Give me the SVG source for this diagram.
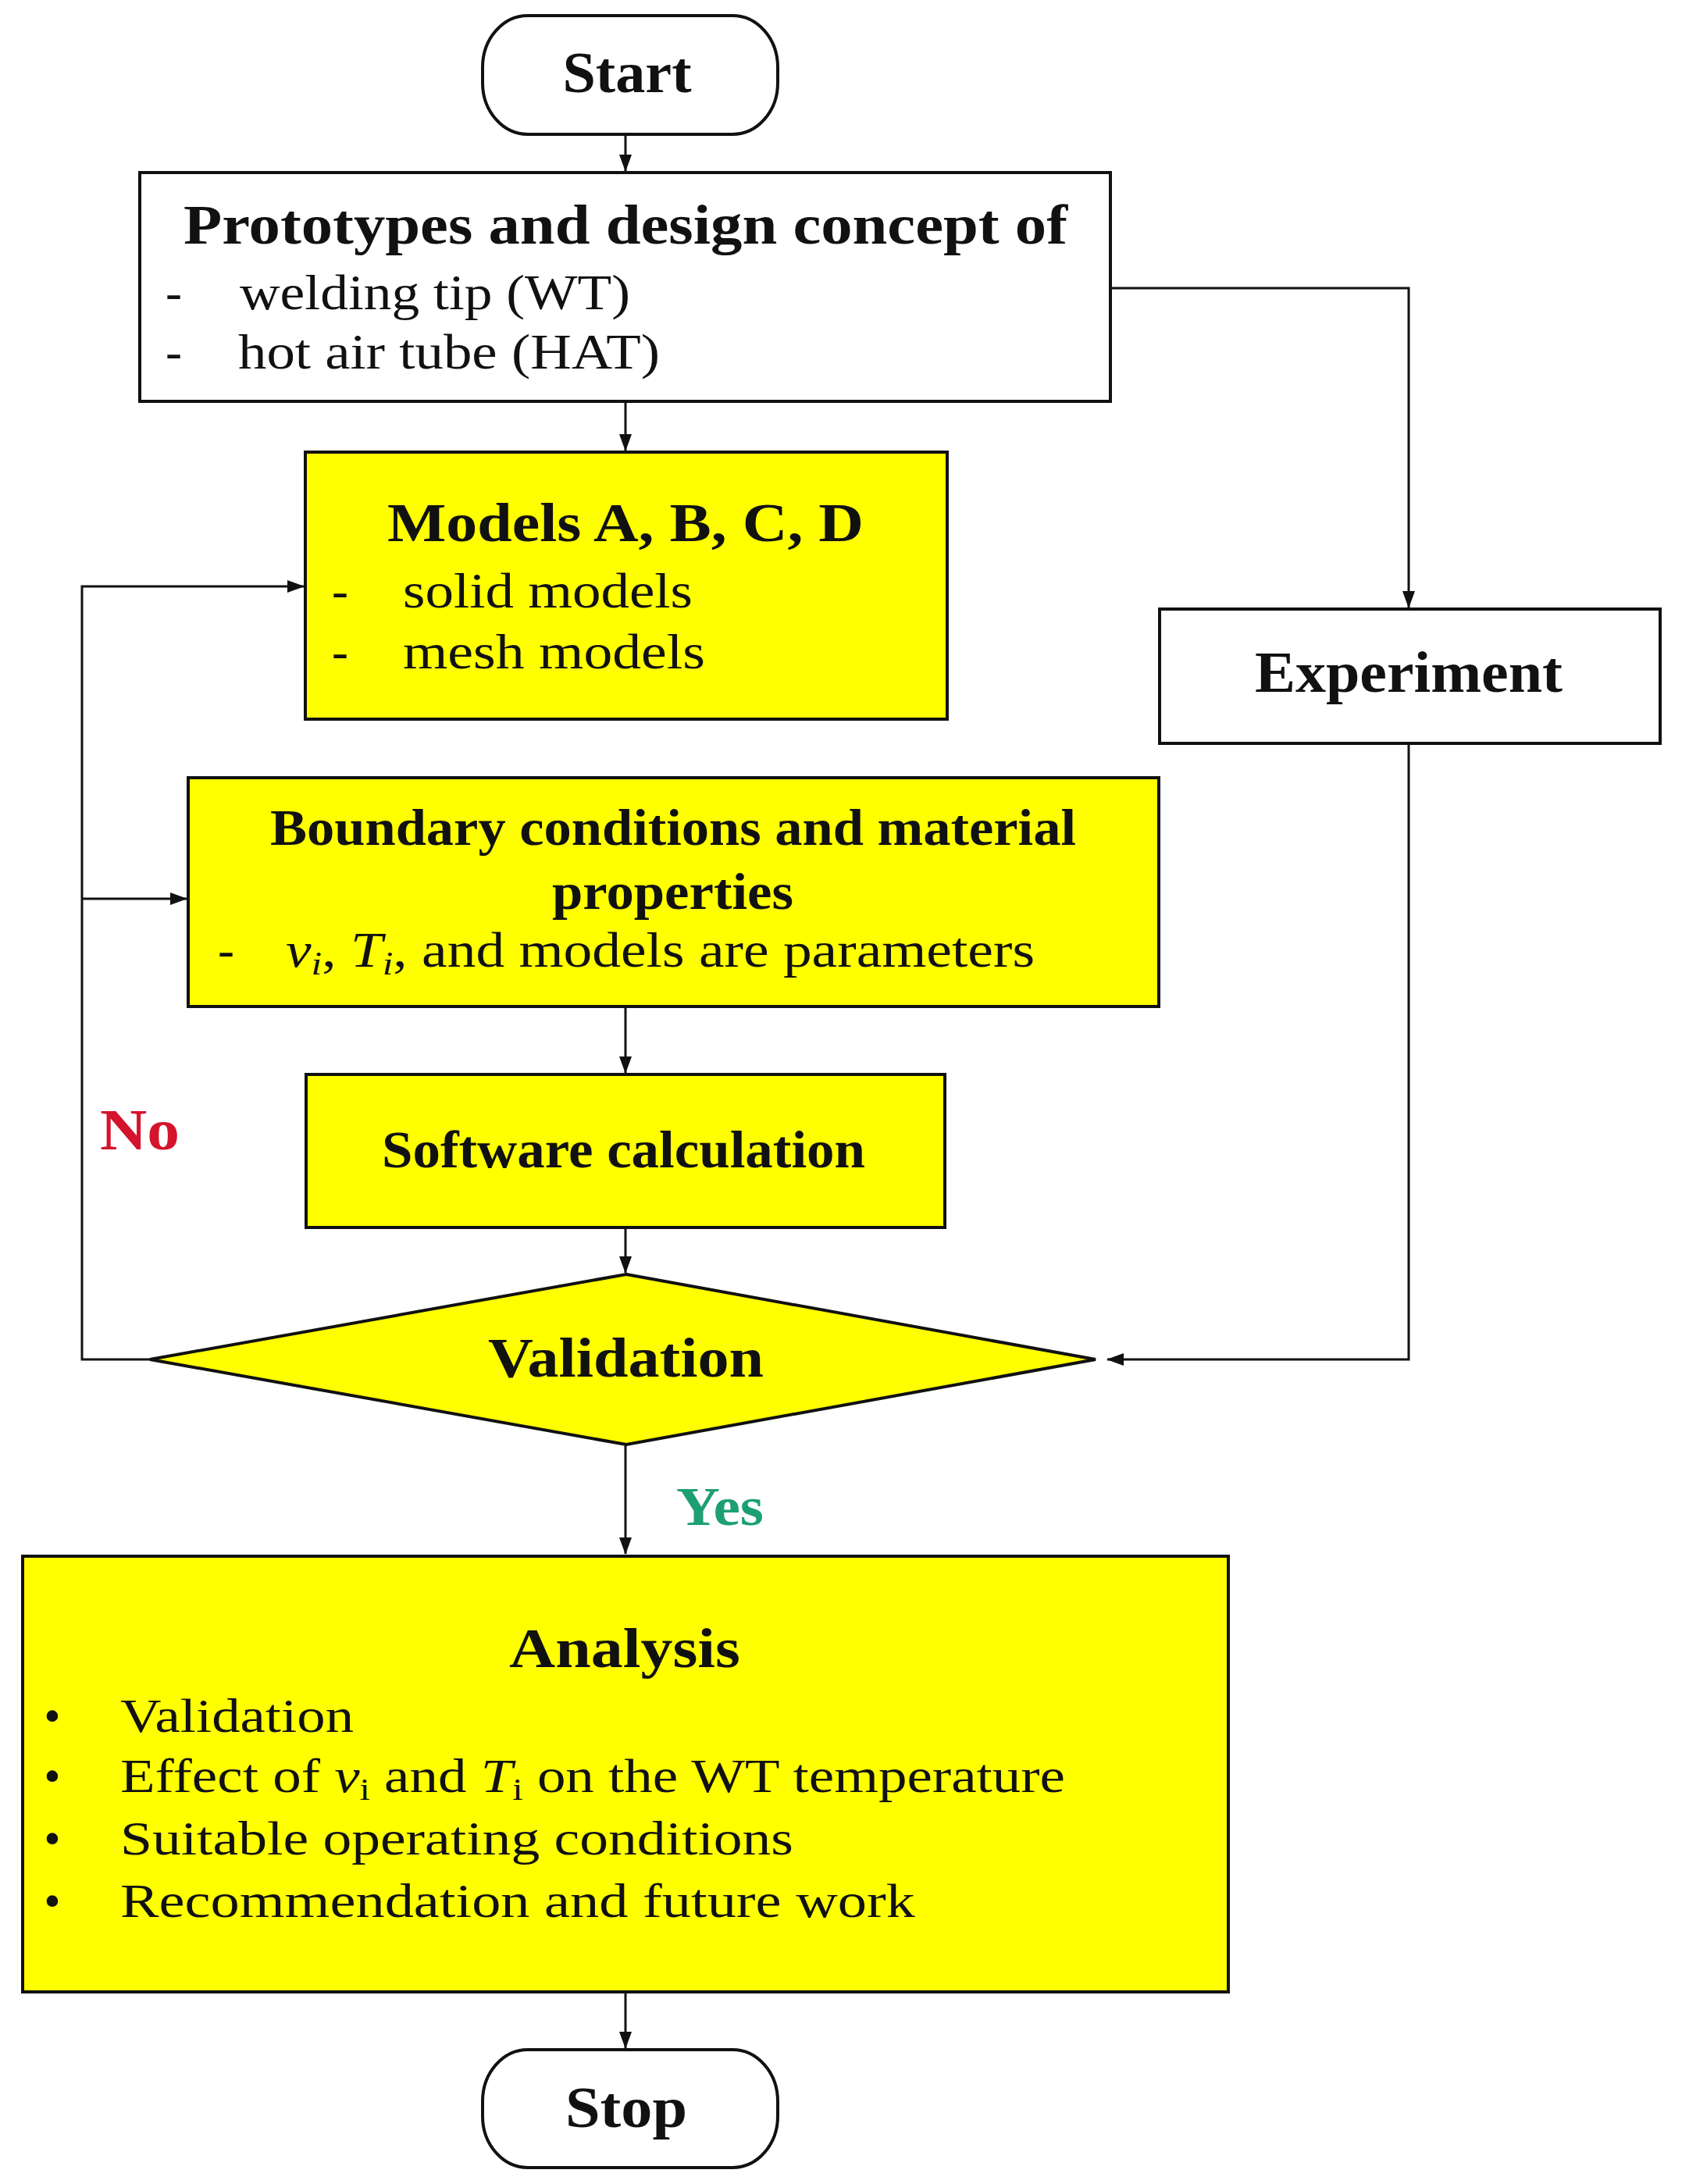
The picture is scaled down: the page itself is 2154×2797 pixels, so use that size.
<svg xmlns="http://www.w3.org/2000/svg" width="2154" height="2797" viewBox="0 0 2154 2797">
<defs>
<style>
.box{fill:#ffffff;stroke:#111;stroke-width:4}
.ybox{fill:#ffff00;stroke:#111;stroke-width:4}
.conn{fill:none;stroke:#111;stroke-width:3}
.t{font-family:"Liberation Serif","Times New Roman",serif;fill:#111}
.b{font-weight:bold}
.it{font-style:italic}
</style>
<marker id="ah" markerUnits="userSpaceOnUse" markerWidth="22" markerHeight="16" refX="21" refY="8" orient="auto">
<path d="M0,0 L22,8 L0,16 z" fill="#111"/>
</marker>
</defs>
<rect width="2154" height="2797" fill="#ffffff"/>

<g id="connectors">
<line class="conn" x1="801" y1="172" x2="801" y2="219" marker-end="url(#ah)"/>
<line class="conn" x1="801" y1="514" x2="801" y2="577" marker-end="url(#ah)"/>
<polyline class="conn" points="1422,369 1804,369 1804,778" marker-end="url(#ah)"/>
<polyline class="conn" points="1804,952 1804,1741 1418,1741" marker-end="url(#ah)"/>
<line class="conn" x1="801" y1="1289" x2="801" y2="1374" marker-end="url(#ah)"/>
<line class="conn" x1="801" y1="1572" x2="801" y2="1630" marker-end="url(#ah)"/>
<line class="conn" x1="801" y1="1850" x2="801" y2="1990" marker-end="url(#ah)"/>
<line class="conn" x1="801" y1="2551" x2="801" y2="2623" marker-end="url(#ah)"/>
<polyline class="conn" points="192,1741 105,1741 105,751 389,751" marker-end="url(#ah)"/>
<line class="conn" x1="105" y1="1151" x2="239" y2="1151" marker-end="url(#ah)"/>
</g>

<g id="start">
<rect class="box" x="618" y="20" width="378" height="152" rx="58" ry="66"/>
<text class="t b" x="803" y="118" font-size="75" text-anchor="middle" textLength="165" lengthAdjust="spacingAndGlyphs">Start</text>
</g>

<g id="prototypes">
<rect class="box" x="179" y="221" width="1243" height="293"/>
<text class="t b" x="235" y="312" font-size="72" textLength="1132" lengthAdjust="spacingAndGlyphs">Prototypes and design concept of</text>
<text class="t" x="212" y="396" font-size="63">-</text>
<text class="t" x="307" y="396" font-size="63" textLength="500" lengthAdjust="spacingAndGlyphs">welding tip (WT)</text>
<text class="t" x="212" y="472" font-size="63">-</text>
<text class="t" x="305" y="472" font-size="63" textLength="540" lengthAdjust="spacingAndGlyphs">hot air tube (HAT)</text>
</g>

<g id="models">
<rect class="ybox" x="391" y="579" width="822" height="342"/>
<text class="t b" x="496" y="693" font-size="70" textLength="610" lengthAdjust="spacingAndGlyphs">Models A, B, C, D</text>
<text class="t" x="425" y="778" font-size="63">-</text>
<text class="t" x="516" y="778" font-size="63" textLength="371" lengthAdjust="spacingAndGlyphs">solid models</text>
<text class="t" x="425" y="856" font-size="63">-</text>
<text class="t" x="516" y="856" font-size="63" textLength="387" lengthAdjust="spacingAndGlyphs">mesh models</text>
</g>

<g id="experiment">
<rect class="box" x="1485" y="780" width="641" height="172"/>
<text class="t b" x="1607" y="886" font-size="74" textLength="394" lengthAdjust="spacingAndGlyphs">Experiment</text>
</g>

<g id="boundary">
<rect class="ybox" x="241" y="996" width="1243" height="293"/>
<text class="t b" x="346" y="1082" font-size="66" textLength="1032" lengthAdjust="spacingAndGlyphs">Boundary conditions and material</text>
<text class="t b" x="707" y="1164" font-size="66" textLength="309" lengthAdjust="spacingAndGlyphs">properties</text>
<text class="t" x="279" y="1238" font-size="63">-</text>
<text class="t" x="366" y="1238" font-size="63" textLength="959" lengthAdjust="spacingAndGlyphs"><tspan class="it">v</tspan><tspan class="it" font-size="42" dy="10">i</tspan><tspan dy="-10">, </tspan><tspan class="it">T</tspan><tspan class="it" font-size="42" dy="10">i</tspan><tspan dy="-10">, and models are parameters</tspan></text>
</g>

<g id="software">
<rect class="ybox" x="392" y="1376" width="818" height="196"/>
<text class="t b" x="489" y="1495" font-size="68" textLength="619" lengthAdjust="spacingAndGlyphs">Software calculation</text>
</g>

<g id="validation">
<polygon class="ybox" points="802,1632 1403,1741 802,1850 192,1741"/>
<text class="t b" x="625" y="1763" font-size="72" textLength="353" lengthAdjust="spacingAndGlyphs">Validation</text>
</g>

<g id="labels">
<text class="t b" x="128" y="1472" font-size="75" style="fill:#d4142c" textLength="102" lengthAdjust="spacingAndGlyphs">No</text>
<text class="t b" x="866" y="1953" font-size="70" style="fill:#1d9f74" textLength="112" lengthAdjust="spacingAndGlyphs">Yes</text>
</g>

<g id="analysis">
<rect class="ybox" x="29" y="1993" width="1544" height="558"/>
<text class="t b" x="652" y="2135" font-size="72" textLength="296" lengthAdjust="spacingAndGlyphs">Analysis</text>
<text class="t" x="67" y="2218" font-size="61" text-anchor="middle">•</text>
<text class="t" x="154" y="2218" font-size="61" textLength="299" lengthAdjust="spacingAndGlyphs">Validation</text>
<text class="t" x="67" y="2295" font-size="61" text-anchor="middle">•</text>
<text class="t" x="154" y="2295" font-size="61" textLength="1210" lengthAdjust="spacingAndGlyphs">Effect of <tspan class="it">v</tspan><tspan font-size="40" dy="10">i</tspan><tspan dy="-10"> and </tspan><tspan class="it">T</tspan><tspan font-size="40" dy="10">i</tspan><tspan dy="-10"> on the WT temperature</tspan></text>
<text class="t" x="67" y="2375" font-size="61" text-anchor="middle">•</text>
<text class="t" x="154" y="2375" font-size="61" textLength="862" lengthAdjust="spacingAndGlyphs">Suitable operating conditions</text>
<text class="t" x="67" y="2455" font-size="61" text-anchor="middle">•</text>
<text class="t" x="154" y="2455" font-size="61" textLength="1018" lengthAdjust="spacingAndGlyphs">Recommendation and future work</text>
</g>

<g id="stop">
<rect class="box" x="618" y="2625" width="378" height="151" rx="58" ry="66"/>
<text class="t b" x="802" y="2724" font-size="75" text-anchor="middle" textLength="156" lengthAdjust="spacingAndGlyphs">Stop</text>
</g>
</svg>
